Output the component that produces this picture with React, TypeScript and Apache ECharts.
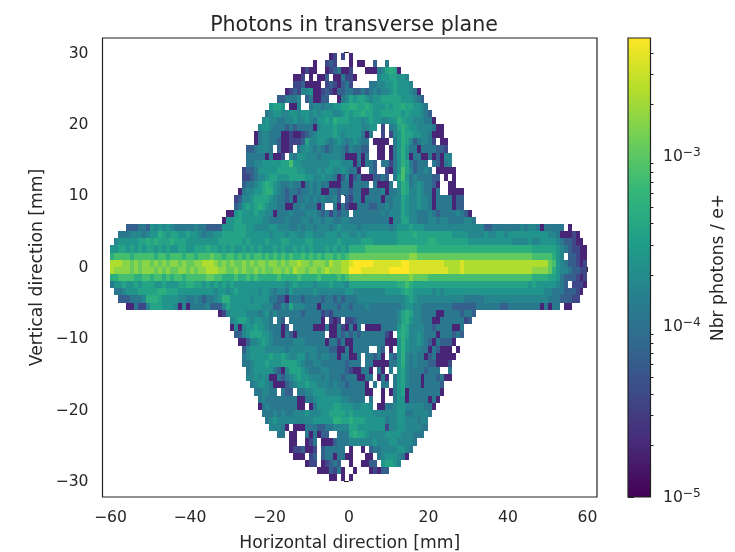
import React, { useEffect, useRef } from "react";
import * as echarts from "echarts";

const titleText = "Photons in transverse plane";
const xName = "Horizontal direction [mm]";
const yName = "Vertical direction [mm]";
const cbName = "Nbr photons / e+";
const xTicks = [-60, -40, -20, 0, 20, 40, 60];
const yTicks = [-30, -20, -10, 0, 10, 20, 30];
const cbMajor = [1e-5, 1e-4, 1e-3];
const cbMinor = [2e-5, 3e-5, 4e-5, 5e-5, 6e-5, 7e-5, 8e-5, 9e-5, 2e-4, 3e-4, 4e-4, 5e-4, 6e-4, 7e-4, 8e-4, 9e-4, 2e-3, 3e-3, 4e-3];
const cbMin = 1e-5;
const cbMax = 4.9e-3;
const viridis = ["#440154", "#482878", "#3e4989", "#31688e", "#26828e", "#1f9e89", "#35b779", "#6ece58", "#b5de2b", "#fde725"];

// photons per e+ for each letter used in the rows below
const levelKeys = "0123456789abcd";
const levelValues = [1.9e-5, 3.9e-5, 6.5e-5, 1.19e-4, 1.73e-4, 2.5e-4, 3.6e-4, 4.9e-4, 7.6e-4, 1.1e-3, 1.6e-3, 2.3e-3, 3.4e-3, 4.9e-3];

// lower edge of each row of bins (mm), first x edge of the row (mm), and the row's bins; "." is an empty bin
const rowY = [29, 28, 27, 26, 25, 24, 23, 22, 21, 20, 19, 18, 17, 16, 15, 14, 13, 12, 11, 10, 9, 8, 7, 6, 5, 4, 3, 2, 1, 0, -1, -2, -3, -4, -5, -6, -7, -8, -9, -10, -11, -12, -13, -14, -15, -16, -17, -18, -19, -20, -21, -22, -23, -24, -25, -26, -27, -28, -29, -30];
const rowStart = [-5, -9, -12, -14, -14, -16, -18, -20, -21, -22, -23, -24, -24, -26, -26, -26, -27, -27, -27, -28, -29, -29, -31, -32, -56, -58, -59, -60, -60, -60, -60, -60, -60, -59, -58, -56, -33, -30, -30, -29, -28, -27, -27, -27, -26, -26, -25, -24, -23, -23, -22, -21, -20, -18, -15, -15, -14, -11, -8, -5];
const rowBins = [
  "01.1.0",
  "0..121...0.00..2..3",
  "0100..012300" + "1...000" + "34676" + "0",
  "001.0.002.0031" + "10.....45566554",
  "112000" + "0.121023" + "1....33445565554",
  "0121445" + "001210223" + "322323434456555430",
  "223334.230022..034" + "6566545566666555432",
  "5665.004.." + "3443445566" + "77667655565667665543",
  "345544554554545554456" + "566766556666656555432",
  "4544334454454355657666" + "5554565544557655444330",
  "45543332323333045556555" + "5554455" + "." + "1" + "." + "346765544443" + "00",
  "034433300100123455556545" + "5553" + "0" + "3" + ".." + "1" + "." + "1" + "4576655443000",
  "034433200111264455434543" + "45433.0000." + "35764234431.00",
  "2234443" + "." + "200" + "1" + "." + "34543" + "43234432" + "43322" + ".." + "00" + "." + "0" + "35753303333221",
  "33333" + "0" + "3" + "0" + "0" + "1" + "." + "435544434444430" + "00303.." + "00.0" + "357503300302044",
  "33445555566" + "8" + "554444444" + "55544" + "4030332" + "." + "331" + "3576" + "32333" + "." + "32034",
  "122355555" + "666665" + "54445" + "45544" + "54" + "330..32..10" + "3586423343" + "." + "00000",
  "112344566" + "555666" + "655" + "445" + "443" + "024" + "0230002232" + "." + "36853433332" + "2.0.0",
  "233456765" + "433433034343300033" + "03333.3000" + "3" + "." + "57634543320" + ".." + "00",
  "034455677" + "5432332334" + "340033233" + "233003334" + "0334" + "7644543303" + ".." + "0000",
  "1244566665" + "4332303343" + "4343342.2" + "1330333303" + "3446544544" + "303333022",
  "2356567654" + "4330033433" + "303..3031" + "0033322334" + "3446544544" + "303333022",
  "0056555655" + "4403334333" + "4443231323" + "3" + ".333333343" + "4446544333" + "43233334320",
  "0556655555" + "4433334333" + "4434434433" + "44" + "3333333333" + "0446644333" + "443443333443",
  "222332" + "545454" + "3333343" + "32222" + "55566655" + "44445544" + "43343443" + "44434544" + "4434444444" + "3455565554" + "4444444444" + "4444223333" + "3334344303" + "3333" + ".0",
  "3334443455" + "7656655655" + "4344556666" + "6655555545" + "5545544554" + "44555455" + "4454555555" + "5566667666" + "6666665555" + "4444544554" + "5555555555" + "443" + "00010",
  "4555556676" + "7666766655" + "5555556666" + "6656555565" + "5566555566" + "555555655" + "5556665555" + "5566666666" + "7766666666" + "5555555555" + "5444454455" + "554322100",
  "5566565656" + "6565655665" + "5666766565" + "6556565655" + "5656556565" + "6555656565" + "7777888888" + "8888888777" + "7777777777" + "7777777777" + "7777776666" + "6654321100",
  "7888878888" + "8788788878" + "8788898878" + "8787878878" + "7878787787" + "8787887878" + "9999999999" + "99999aa999" + "9999999999" + "9999999999" + "9999998888" + "8754.22100",
  "bbbaa9a9aa" + "9a9a9aa9a9" + "9aabbba9a9" + "a99a9a9aa9" + "aa9a9aabaa" + "9aaa9baabb" + "cdddddcccc" + "cccddccccc" + "ccccbbbbcb" + "bbbbbbbbbb" + "bbbbbbbbbb" + "9854322101",
  "baaaa9a9aa" + "a9a9a99aa9" + "a9aabbbaa9" + "9a9a99a9a9" + "9aa9a9baa9" + "aa9abaaabb" + "dddccccccc" + "dddddccccc" + "cccccbbbcb" + "bbbbbbbbbb" + "bbbbbbaaaa" + "9754432211",
  "7788887788" + "7887878878" + "8888998877" + "7877878777" + "7787777877" + "7787777878" + "9999999999" + "99999a9999" + "8888888888" + "8888888888" + "8888887777" + "6653222101",
  "3556556566" + "6556555667" + "7665656565" + "6555555555" + "5555456555" + "5455565554" + "6666666666" + "6677876666" + "6666666666" + "6666666666" + "6666656555" + "55432.1110",
  "334555666" + "6677666555" + "5555554554" + "5655555455" + "4344354444" + "4544444445" + "5444444445" + "5556765555" + "5454555555" + "5555555555" + "5555555554" + "433322210",
  "2223334777" + "6555544334" + "3233457755" + "5554555533" + "2203332333" + "32332323" + "3344444444" + "4444565444" + "4444444443" + "3333444444" + "4444444444" + "33322211",
  "003114666555404033334222" + "46555555" + "55444224" + "36444333" + "03333233" + "2333433333" + "3334554433" + "3333332222" + "22" + "3333332233333333" + "0" + "3" + "0" + "3" + "3" + "." + "0" + "0",
  "01" + "4555544434" + "5343333332" + "33331213333" + "3333333333" + "3346764433" + "330033332332",
  "4566545544" + "3.32.33333" + "3330.101.1" + "1" + "233333333" + "3346754433" + "30033333312",
  "0404556554" + "33302.3333" + "3000300310" + "303" + "." + "0000" + "3333" + "57644443323333003",
  "2245666554" + "3303203333" + "333.00323" + "232333333" + "1" + "0" + "." + "67644543330333232",
  "0024456543" + "3333444333" + "33033130" + "033333333" + "000" + "575445432032220",
  "2455554444" + "4344444443" + "3322003" + "03333" + ".." + "32" + "." + "0" + "." + "57544433032000" + "." + "0",
  "3455555655" + "6544553443" + "4433033" + "003" + "." + "33230" + "." + "32574343302300000",
  "3345556555" + "6666543344" + "3333332" + "333" + "." + "3300003357434333220001",
  "3455555320" + "4666543334" + "433332" + "100330" + "." + "3" + "0" + "." + "3" + "." + "56433332333" + ".." + "3",
  "4454540032" + "3456554443" + "433323" + "330033" + "." + "0" + "3" + "0" + "." + "3" + "56433303332300",
  "3455430002" + "3455655444" + "34332" + "33330" + "." + "3" + "." + "33" + "." + "3" + "564333033332",
  "334433.322" + ".334455544" + "4433" + "3333" + "00" + ".." + "0" + "." + "0" + "3" + "56" + "0" + "33333333" + "0",
  "3433333333" + "0033455555" + "544" + "3333" + "." + "3" + ".." + "0" + ".." + "3" + "55" + "0" + "33333" + "0" + "3" + "0",
  "0343333333" + "00.0355556" + "655" + "544554" + "." + "00" + "3345544444330",
  "3334343344" + "4544455666" + "65" + "6555554444" + "44553344443",
  "3454444444" + "4455555776" + "6" + "7666555553" + "4455444344",
  "44430.0003" + "3322334444" + "6655555551" + "4455444433",
  "33" + ".00..303022..333" + "676654444" + "5555444333",
  "00..013.0002333" + "444444544" + "45544443",
  "0112001.233333." + "0..0." + "23344445543",
  "000.12.2330330" + "0...00." + "34555430",
  "011.01232.." + "0..0022." + "56654",
  "0002130." + ".0...01022",
  "00.0.0",
];

const cells: number[][] = [];
rowBins.forEach((bins, r) => {
  for (let i = 0; i < bins.length; i++) {
    const k = levelKeys.indexOf(bins[i]);
    if (k >= 0) cells.push([rowStart[r] + i, rowY[r], Math.log10(levelValues[k])]);
  }
});

const fontFamily = "DejaVu Sans";
const textColor = "#262626";
const lineColor = "#222";
const tickFont = 15.6;
const nameFont = 17.2;

export default function App() {
  const ref = useRef<HTMLDivElement>(null);
  useEffect(() => {
    document.body.style.margin = "0";
    const chart = echarts.init(ref.current!, null, { renderer: "svg" });
    const logMin = Math.log10(cbMin);
    const logMax = Math.log10(cbMax);
    chart.setOption({
      animation: false,
      backgroundColor: "#ffffff",
      textStyle: { fontFamily },
      title: {
        text: titleText,
        left: 349,
        top: 8,
        textAlign: "center",
        textStyle: { fontFamily, fontSize: 20.6, fontWeight: "normal", color: textColor },
      },
      grid: [
        { left: 102.5, top: 38, width: 494.5, height: 459, show: true, borderColor: lineColor, borderWidth: 1.2, backgroundColor: "transparent", outerBoundsMode: "none" },
        { left: 628, top: 38, width: 22.5, height: 459, show: false, outerBoundsMode: "none" },
      ],
      visualMap: {
        show: false,
        seriesIndex: 0,
        dimension: 2,
        min: logMin,
        max: logMax,
        inRange: { color: viridis },
      },
      xAxis: [
        {
          type: "value",
          gridIndex: 0,
          min: -62.0,
          max: 62.4,
          splitLine: { show: false },
          axisLine: { show: false },
          axisTick: { show: true, length: 5, lineStyle: { color: lineColor }, customValues: xTicks },
          axisLabel: {
            customValues: xTicks,
            fontSize: tickFont,
            color: textColor,
            margin: 12,
            formatter: (v: number) => String(v).replace("-", "\u2212"),
          },
          name: xName,
          nameLocation: "middle",
          nameGap: 36,
          nameTextStyle: { fontFamily, fontSize: nameFont, color: textColor },
        },
        { type: "value", gridIndex: 1, min: 0, max: 1, show: false },
      ],
      yAxis: [
        {
          type: "value",
          gridIndex: 0,
          min: -32.2,
          max: 32.03,
          splitLine: { show: false },
          axisLine: { show: false },
          axisTick: { show: true, length: 5, lineStyle: { color: lineColor }, customValues: yTicks },
          axisLabel: {
            customValues: yTicks,
            fontSize: tickFont,
            color: textColor,
            margin: 14,
            formatter: (v: number) => String(v).replace("-", "\u2212"),
          },
          name: yName,
          nameLocation: "middle",
          nameGap: 57.5,
          nameTextStyle: { fontFamily, fontSize: nameFont, color: textColor },
        },
        {
          type: "value",
          gridIndex: 1,
          position: "right",
          min: logMin,
          max: logMax,
          splitLine: { show: false },
          axisLine: { show: false },
          axisTick: { show: true, length: 6, lineStyle: { color: lineColor }, customValues: cbMajor.map(Math.log10) },
          axisLabel: {
            customValues: cbMajor.map(Math.log10),
            margin: 12.5,
            formatter: (v: number) => `{b|10}{s|\u2212${Math.round(-v)}}`,
            rich: {
              b: { fontFamily, fontSize: tickFont, color: textColor },
              s: { fontFamily, fontSize: 12.2, color: textColor, verticalAlign: "bottom", padding: [0, 0, 8, 0] },
            },
          },
          name: cbName,
          nameLocation: "middle",
          nameGap: 57.5,
          nameTextStyle: { fontFamily, fontSize: nameFont, color: textColor },
        },
        {
          type: "value",
          gridIndex: 1,
          position: "right",
          min: logMin,
          max: logMax,
          splitLine: { show: false },
          axisLine: { show: false },
          axisLabel: { show: false },
          axisTick: { show: true, length: 3, lineStyle: { color: lineColor }, customValues: cbMinor.map(Math.log10) },
        },
      ],
      series: [
        {
          type: "custom",
          xAxisIndex: 0,
          yAxisIndex: 0,
          data: cells,
          encode: { x: 0, y: 1 },
          renderItem: (_: any, api: any) => {
            const x = api.value(0);
            const y = api.value(1);
            const a = api.coord([x, y + 1]);
            const b = api.coord([x + 1, y]);
            const x0 = Math.round(a[0]);
            const y0 = Math.round(a[1]);
            return {
              type: "rect",
              shape: { x: x0, y: y0, width: Math.round(b[0]) - x0, height: Math.round(b[1]) - y0 },
              style: { fill: api.visual("color") },
            };
          },
        },
        {
          type: "custom",
          xAxisIndex: 1,
          yAxisIndex: 1,
          data: [[0, logMin, 1, logMax]],
          encode: { x: [0, 2], y: [1, 3] },
          renderItem: (_: any, api: any) => {
            const a = api.coord([0, logMax]);
            const b = api.coord([1, logMin]);
            return {
              type: "rect",
              shape: { x: a[0], y: a[1], width: b[0] - a[0], height: b[1] - a[1] },
              style: {
                fill: new echarts.graphic.LinearGradient(
                  0, 1, 0, 0,
                  viridis.map((color, i) => ({ offset: i / (viridis.length - 1), color })),
                ),
                stroke: lineColor,
                lineWidth: 1.2,
              },
            };
          },
        },
      ],
    });
    return () => chart.dispose();
  }, []);
  return <div ref={ref} style={{ width: 735, height: 552, filter: "blur(0.6px)" }} />;
}
